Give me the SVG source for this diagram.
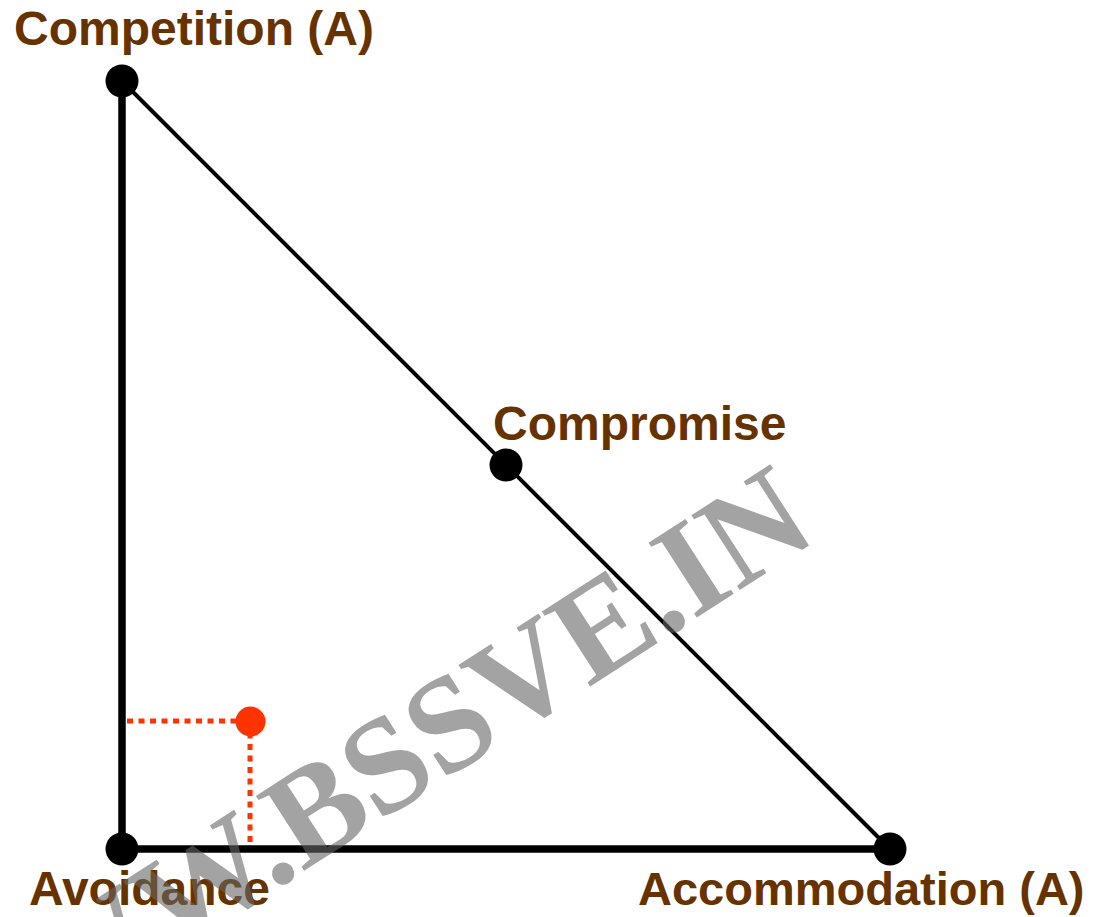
<svg xmlns="http://www.w3.org/2000/svg" width="1094" height="917" viewBox="0 0 1094 917">
<style>
.lbl{font-family:"Liberation Sans",Arial,sans-serif;font-weight:bold;font-size:48px;fill:#663300}
.dot{fill:#000}
.thick{stroke:#000;stroke-width:7.5;fill:none}
.thin{stroke:#000;stroke-width:4;fill:none}
.red{stroke:#FF3300;stroke-width:5;stroke-dasharray:6 5.5;fill:none}
.wm{font-family:"Liberation Serif","Times New Roman",serif;font-weight:bold;font-size:136px;fill:#666;fill-opacity:0.6}
</style>
<rect width="1094" height="917" fill="#fff"/>
<g id="connectors">
<line class="thick" x1="122" y1="81" x2="122" y2="849"/>
<line class="thick" x1="122" y1="849" x2="890" y2="849"/>
<line class="thin" x1="122" y1="81" x2="890" y2="849"/>
<line class="red" x1="127" y1="721" x2="250" y2="721"/>
<line class="red" x1="250" y1="721" x2="250" y2="846"/>
</g>
<g id="competition">
<circle class="dot" cx="122" cy="81" r="16.5"/>
<text class="lbl" x="14" y="45">Competition (A)</text>
</g>
<g id="compromise">
<circle class="dot" cx="506" cy="465" r="16.5"/>
<text class="lbl" x="493" y="440">Compromise</text>
</g>
<g id="avoidance">
<circle class="dot" cx="122" cy="849" r="16.5"/>
<text class="lbl" x="29" y="905">Avoidance</text>
</g>
<g id="accommodation">
<circle class="dot" cx="890" cy="849" r="16.5"/>
<text class="lbl" x="638" y="905" style="font-size:47px">Accommodation (A)</text>
</g>
<g id="point">
<circle cx="250.5" cy="721.5" r="15" fill="#FF3300"/>
</g>
<text class="wm" transform="translate(293,866) rotate(-32.8)" x="-425" y="10">WWW.BSSVE.IN</text>
</svg>
